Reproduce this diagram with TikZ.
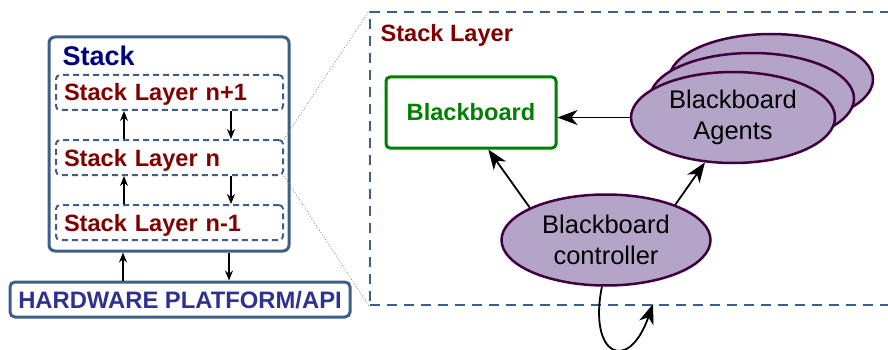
\documentclass[tikz,border=0pt]{standalone}
\usepackage{fontspec}
\setmainfont{Liberation Sans}
\usetikzlibrary{shapes.geometric,arrows.meta,calc}

\definecolor{frameblue}{HTML}{3F5F88}
\definecolor{stacknavy}{HTML}{000080}
\definecolor{layerred}{HTML}{800000}
\definecolor{hwblue}{HTML}{2E3192}
\definecolor{bbgreen}{HTML}{008000}
\definecolor{agentfill}{HTML}{B4A5C8}
\definecolor{agentline}{HTML}{400040}

\tikzset{
  x=1pt, y=-1pt,
  every node/.style={font=\fontsize{23.6}{28}\selectfont\bfseries},
  stackbox/.style={draw=frameblue, line width=3pt, rounded corners=6pt,
    minimum width=240pt, minimum height=214pt},
  layerbox/.style={draw=frameblue, line width=2pt, dash pattern=on 6pt off 4pt,
    rounded corners=4pt, minimum width=227pt, minimum height=35pt,
    inner xsep=8pt, inner ysep=0pt, text width=211pt, align=left,
    text height=17pt, text depth=0pt, text=layerred},
  hwbox/.style={draw=frameblue, line width=3pt, rounded corners=5pt,
    minimum width=340pt, minimum height=35pt, inner sep=0pt,
    text height=17pt, text depth=0pt, text=hwblue,
    font=\fontsize{23.8}{28}\selectfont\bfseries},
  bigframe/.style={draw=frameblue, line width=2pt, dash pattern=on 10pt off 7pt,
    minimum width=530pt, minimum height=293pt, inner sep=0pt},
  bbbox/.style={draw=bbgreen, line width=3pt, rounded corners=4pt,
    minimum width=170pt, minimum height=71pt, text=bbgreen,
    text height=17pt, text depth=0pt},
  agent/.style={ellipse, draw=agentline, fill=agentfill, line width=2.5pt,
    inner sep=0pt, align=center,
    font=\fontsize{25.5}{30.5}\selectfont\mdseries},
  smallarrow/.style={line width=1.4pt, -{Stealth[length=10pt,width=8pt]}},
  bigarrow/.style={line width=1.8pt, -{Stealth[length=20pt,width=15pt,inset=6pt]}},
  zoomline/.style={gray, line width=0.8pt, dotted}
}

\begin{document}
\begin{tikzpicture}
  \clip (0,0) rectangle (888,350);

  % ---- stack of layers ----
  \node[stackbox] (stack) at (169,144) {};
  \node[anchor=base west, text=stacknavy,
        font=\fontsize{27}{32}\selectfont\bfseries] (stacklbl) at (59,66) {Stack};
  \node[layerbox] (lup)  at (169.5,92.5)  {Stack Layer n+1};
  \node[layerbox] (lmid) at (169.5,157.5) {Stack Layer n};
  \node[layerbox] (llow) at (169.5,222.5) {Stack Layer n-1};
  \node[hwbox] (hw) at (180,299.5) {HARDWARE PLATFORM/API};

  % messages passed up and down the stack
  \draw[smallarrow] (lmid.north -| 124,0) -- (lup.south -| 124,0);
  \draw[smallarrow] (lup.south -| 231,0) -- (lmid.north -| 231,0);
  \draw[smallarrow] (llow.north -| 124,0) -- (lmid.south -| 124,0);
  \draw[smallarrow] (lmid.south -| 231,0) -- (llow.north -| 231,0);
  \draw[smallarrow] (hw.north -| 123,0) -- (stack.south -| 123,0);
  \draw[smallarrow] (stack.south -| 229,0) -- (hw.north -| 229,0);

  % ---- detail of one layer ----
  \node[bigframe] (layer) at (635,158.5) {};
  \node[anchor=base west, text=layerred] (layerlbl) at (377,42) {Stack Layer};
  \draw[zoomline] (lmid.north east) -- (layer.north west);
  \draw[zoomline] (lmid.south east) -- (layer.south west);

  \node[bbbox] (bb) at (471,112.5) {Blackboard};

  % stacked agent ellipses, back to front
  \node[agent, minimum width=204pt, minimum height=91pt] (ag3) at (771,79.5) {};
  \node[agent, minimum width=204pt, minimum height=91pt] (ag2) at (752,98.5) {};
  \node[agent, minimum width=204pt, minimum height=91pt] (ag) at (733,117.5)
       {Blackboard\\Agents};

  \node[agent, minimum width=209pt, minimum height=91pt] (ctrl) at (606,240)
       {Blackboard\\controller};

  \draw[bigarrow] (ag.west) -- (ag.west -| bb.east);
  \draw[bigarrow] (ctrl.157) -- ($(bb.south west)!0.6!(bb.south east)$);
  \draw[bigarrow] (ctrl.27) -- (ag.238);

  % self loop of the controller
  \coordinate (loopend) at (653,304);
  \draw[bigarrow] (ctrl.265) .. controls (588,355) and (628,375) .. (loopend);
\end{tikzpicture}
\end{document}
